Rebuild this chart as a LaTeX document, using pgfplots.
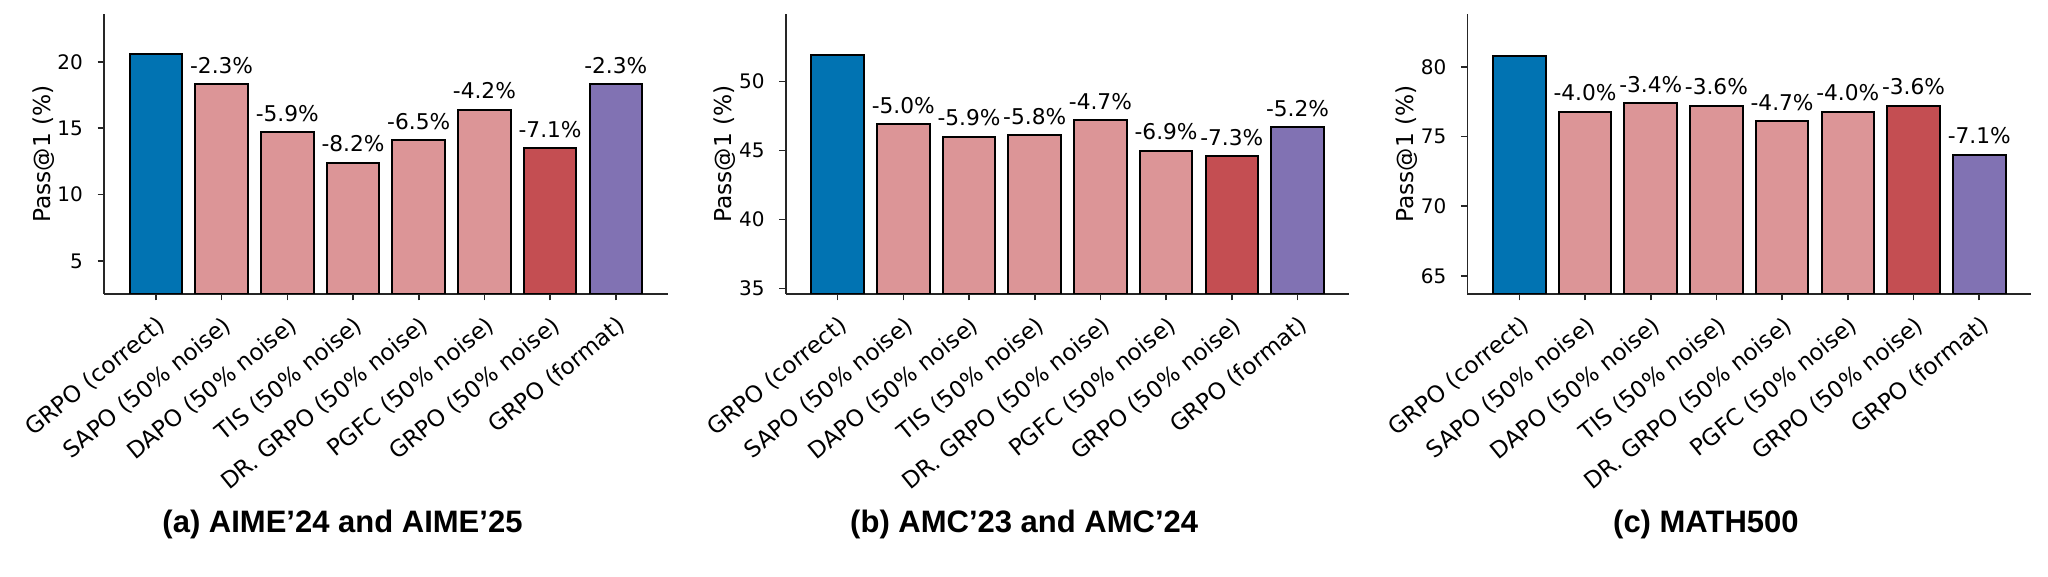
\documentclass[border=0pt]{standalone}
\usepackage{pgfplots}
\pgfplotsset{compat=1.18}
\usepackage{fontspec}
\setmainfont{DejaVu Sans}
\newfontfamily\capfont{Liberation Sans}
\definecolor{cblue}{HTML}{0173B2}
\definecolor{cpink}{HTML}{DC9597}
\definecolor{cred}{HTML}{C44E52}
\definecolor{cpurple}{HTML}{8172B3}
\definecolor{spine}{HTML}{262626}
\pgfplotsset{
  panel/.style={
    scale only axis, width=563.7bp, height=280bp, anchor=south west,
    axis lines=left, axis line style={-, line width=1.6bp, color=spine},
    enlargelimits=false,
    xmin=-0.79, xmax=7.79,
    xtick={0,1,2,3,4,5,6,7},
    xticklabels={GRPO (correct), SAPO (50\% noise), DAPO (50\% noise), TIS (50\% noise), DR. GRPO (50\% noise), PGFC (50\% noise), GRPO (50\% noise), GRPO (format)},
    tick align=outside, major tick length=6.5bp,
    every tick/.style={line width=1.6bp, color=spine},
    xticklabel style={yshift=-14bp, rotate=39, anchor=north east, inner sep=0pt, font=\fontsize{23bp}{27bp}\selectfont},
    yticklabel style={xshift=-14.5bp, anchor=east, inner sep=0pt, font=\fontsize{20bp}{24bp}\selectfont},
    /pgf/number format/assume math mode=true,
    ylabel={Pass@1 (\%)},
    ylabel style={at={(axis description cs:-0.1077,0.5)}, anchor=center, font=\fontsize{23.3bp}{28bp}\selectfont},
    ybar,
  },
  b/.style={draw=black, line width=2bp, bar width=0.8, bar shift=0pt},
  nn/.style={nodes near coords, point meta=explicit symbolic,
    every node near coord/.append style={font=\fontsize{21.7bp}{26bp}\selectfont, anchor=base, yshift=11bp, inner sep=0pt, text=black}},
}
\begin{document}
\begin{tikzpicture}[x=1bp,y=1bp]
\path[use as bounding box] (0,0) rectangle (2048,577);
% (a)
\begin{axis}[panel, at={(104bp,283bp)}, ymin=2.51, ymax=23.6, ytick={5,10,15,20}]
\addplot[b, fill=cblue] coordinates {(0,20.6)};
\addplot[b, fill=cpink, nn] coordinates {(1,18.3)[-2.3\%] (2,14.7)[-5.9\%] (3,12.4)[-8.2\%] (4,14.1)[-6.5\%] (5,16.4)[-4.2\%]};
\addplot[b, fill=cred, nn] coordinates {(6,13.5)[-7.1\%]};
\addplot[b, fill=cpurple, nn] coordinates {(7,18.3)[-2.3\%]};
\end{axis}
% (b)
\begin{axis}[panel, at={(785.7bp,283bp)}, ymin=34.6, ymax=54.9, ytick={35,40,45,50}]
\addplot[b, fill=cblue] coordinates {(0,51.9)};
\addplot[b, fill=cpink, nn] coordinates {(1,46.9)[-5.0\%] (2,46.0)[-5.9\%] (3,46.1)[-5.8\%] (4,47.2)[-4.7\%] (5,45.0)[-6.9\%]};
\addplot[b, fill=cred, nn] coordinates {(6,44.6)[-7.3\%]};
\addplot[b, fill=cpurple, nn] coordinates {(7,46.7)[-5.2\%]};
\end{axis}
% (c)
\begin{axis}[panel, at={(1467.4bp,283bp)}, ymin=63.7, ymax=83.8, ytick={65,70,75,80}]
\addplot[b, fill=cblue] coordinates {(0,80.8)};
\addplot[b, fill=cpink, nn] coordinates {(1,76.8)[-4.0\%] (2,77.4)[-3.4\%] (3,77.2)[-3.6\%] (4,76.1)[-4.7\%] (5,76.8)[-4.0\%]};
\addplot[b, fill=cred, nn] coordinates {(6,77.2)[-3.6\%]};
\addplot[b, fill=cpurple, nn] coordinates {(7,73.7)[-7.1\%]};
\end{axis}
\node[font=\capfont\bfseries\fontsize{31bp}{36bp}\selectfont] at (342.5,53) {(a) AIME’24 and AIME’25};
\node[font=\capfont\bfseries\fontsize{31bp}{36bp}\selectfont] at (1024.2,53) {(b) AMC’23 and AMC’24};
\node[font=\capfont\bfseries\fontsize{31bp}{36bp}\selectfont] at (1705.9,53) {(c) MATH500};
\end{tikzpicture}
\end{document}
